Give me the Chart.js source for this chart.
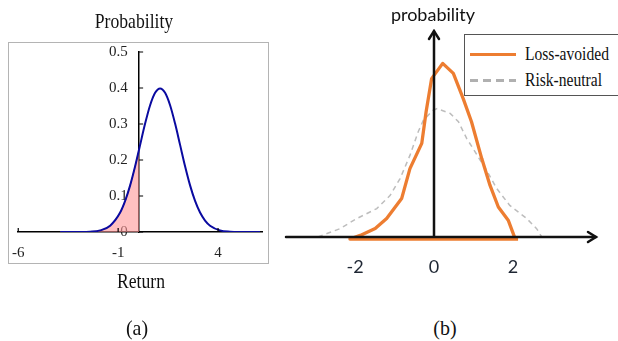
<!DOCTYPE html>
<html>
<head>
<meta charset="utf-8">
<script src="https://cdn.jsdelivr.net/npm/chart.js@4.4.0/dist/chart.umd.min.js"></script>
<style>
  body { margin: 0; width: 618px; height: 341px; overflow: hidden; position: relative; background: #fff; }
  canvas { position: absolute; top: 0; }
  #chartA { left: 0; }
  #chartB { left: 280px; }
  #boxA { position: absolute; left: 8px; top: 42px; width: 259px; height: 220px; border: 1px solid #b4b4b4; }
  .serif { position: absolute; font-family: "Liberation Serif", serif; color: #111; line-height: 1; white-space: nowrap; text-align: center; width: 200px; }
  #probA { left: 34px; top: 11px; font-size: 21px; transform: scaleX(0.84); }
  #returnA { left: 41px; top: 271px; font-size: 21px; transform: scaleX(0.84); }
  #capA { left: 37px; top: 318px; font-size: 21px; transform: scaleX(0.95); }
  #capB { left: 345px; top: 318px; font-size: 21px; transform: scaleX(0.95); }
  #probB { position: absolute; left: 333px; top: 5px; width: 200px; text-align: center; font-family: Lato, sans-serif; font-size: 18px; line-height: 1; color: #111; }
  #legendB { position: absolute; left: 464px; top: 34px; width: 170px; height: 60px; border: 1px solid #555; background: #fff; }
  .legItem { position: absolute; left: 0; height: 28px; width: 170px; }
  .legLine { position: absolute; left: 5px; width: 46px; }
  .legText { position: absolute; left: 60px; font-family: "Liberation Serif", serif; font-size: 19px; line-height: 1; color: #111; transform: scaleX(0.82); transform-origin: left; white-space: nowrap; }
</style>
</head>
<body>
<div id="boxA"></div>
<canvas id="chartA" width="280" height="300"></canvas>
<canvas id="chartB" width="338" height="300"></canvas>
<div class="serif" id="probA">Probability</div>
<div class="serif" id="returnA">Return</div>
<div class="serif" id="capA">(a)</div>
<div class="serif" id="capB">(b)</div>
<div id="probB">probability</div>
<div id="legendB"></div>
<script>
// panel (a): return distribution
const returnX = [-3.9, -2.9, -2.4, -1.9, -1.4, -0.9, -0.65, -0.4, -0.15, 0.05, 0.35, 0.6, 0.85, 1.1, 1.35, 1.6, 1.85, 2.1, 2.35, 2.6, 2.85, 3.1, 3.35, 3.6, 4.1, 4.6, 5.1, 6.1];
const returnProb = [0, 0.0001, 0.0009, 0.0044, 0.0175, 0.054, 0.0863, 0.1295, 0.1826, 0.2299, 0.3011, 0.3521, 0.3867, 0.3989, 0.3867, 0.3521, 0.3011, 0.242, 0.1826, 0.1295, 0.0863, 0.054, 0.0317, 0.0175, 0.0044, 0.0009, 0.0001, 0];
const tailEnd = 0.05;
const xTicksA = [-6, -1, 4];

// panel (b): loss-avoided vs risk-neutral
const lossX = [2.13, -2.13, -1.87, -1.49, -1.2, -0.82, -0.61, -0.31, -0.2, -0.06, 0.22, 0.49, 0.74, 0.95, 1.21, 1.42, 1.63, 1.88, 2.05];
const lossY = [-0.005, -0.005, 0.004, 0.021, 0.046, 0.096, 0.171, 0.234, 0.313, 0.396, 0.434, 0.409, 0.346, 0.288, 0.196, 0.129, 0.075, 0.042, -0.003];
const neutralX = [-2.94, -2.38, -1.96, -1.45, -1.11, -0.86, -0.61, -0.4, -0.27, -0.02, 0.08, 0.41, 0.62, 0.83, 0.99, 1.33, 1.59, 1.92, 2.35, 2.6, 2.73, 2.84];
const neutralY = [0, 0.021, 0.046, 0.071, 0.104, 0.146, 0.204, 0.263, 0.292, 0.317, 0.321, 0.309, 0.288, 0.246, 0.221, 0.167, 0.121, 0.079, 0.046, 0.021, 0, 0];
const xTicksB = [-2, 0, 2];

function points(xs, ys) {
    return xs.map((x, i) => ({ x: x, y: ys[i] }));
}

const curvePts = points(returnX, returnProb);
const tailPts = curvePts.filter(p => p.x <= tailEnd);

// small tick marks drawn on the inner side of the axes
const innerTicks = {
    id: "innerTicks",
    afterDraw(chart) {
        const ctx = chart.ctx;
        const xs = chart.scales.x, ys = chart.scales.y;
        const x0 = xs.getPixelForValue(tailEnd), y0 = ys.getPixelForValue(0);
        ctx.save();
        ctx.strokeStyle = "#000";
        ctx.lineWidth = 1.2;
        ctx.beginPath();
        ys.ticks.forEach(t => {
            const y = ys.getPixelForValue(t.value);
            ctx.moveTo(x0, y);
            ctx.lineTo(x0 + 4, y);
        });
        xTicksA.forEach(v => {
            const x = xs.getPixelForValue(v);
            ctx.moveTo(x, y0);
            ctx.lineTo(x, y0 - 4);
        });
        ctx.stroke();
        ctx.restore();
    }
};

new Chart(document.getElementById("chartA").getContext("2d"), {
    type: "line",
    data: {
        datasets: [
            {
                data: curvePts,
                borderColor: "#0a0aa0",
                borderWidth: 2,
                pointRadius: 0,
                cubicInterpolationMode: "monotone",
                fill: false,
                order: 1
            },
            {
                data: tailPts,
                borderColor: "#d84a4a",
                borderWidth: 1,
                backgroundColor: "rgba(255, 150, 150, 0.6)",
                pointRadius: 0,
                cubicInterpolationMode: "monotone",
                fill: "origin",
                order: 2
            }
        ]
    },
    options: {
        responsive: false,
        animation: false,
        layout: { padding: { left: 18, right: 18, top: 52, bottom: 38 } },
        plugins: { legend: { display: false }, tooltip: { enabled: false } },
        scales: {
            x: {
                type: "linear",
                min: -6,
                max: 6.2,
                afterBuildTicks: s => { s.ticks = xTicksA.map(v => ({ value: v })); },
                afterFit: s => { s.height = 30; },
                grid: { display: false, drawTicks: false },
                border: { color: "#000", width: 1.5 },
                ticks: { color: "#222", padding: 12, font: { family: "Liberation Serif", size: 15 } }
            },
            y: {
                type: "linear",
                position: { x: tailEnd },
                z: 1,
                min: 0,
                max: 0.5,
                grid: { display: false, drawTicks: false },
                border: { color: "#000", width: 1.5 },
                // labels are right-aligned on the crossing axis, so pad them away from the line
                ticks: { stepSize: 0.1, color: "#222", font: { family: "Liberation Serif", size: 15 }, callback: v => v + "   " }
            }
        }
    },
    plugins: [innerTicks]
});

// axes with arrow heads crossing at the origin
const arrowAxes = {
    id: "arrowAxes",
    afterDatasetsDraw(chart) {
        const ctx = chart.ctx;
        const area = chart.chartArea;
        const x0 = chart.scales.x.getPixelForValue(0);
        const y0 = chart.scales.y.getPixelForValue(0);
        ctx.save();
        ctx.strokeStyle = "#111";
        ctx.lineWidth = 2.5;
        ctx.lineCap = "round";
        ctx.beginPath();
        ctx.moveTo(area.left, y0);
        ctx.lineTo(area.right - 1, y0);
        ctx.moveTo(x0, y0);
        ctx.lineTo(x0, area.top + 1);
        ctx.stroke();
        ctx.beginPath();
        ctx.moveTo(area.right - 9, y0 - 5);
        ctx.lineTo(area.right - 1, y0);
        ctx.lineTo(area.right - 9, y0 + 5);
        ctx.moveTo(x0 - 5, area.top + 9);
        ctx.lineTo(x0, area.top + 1);
        ctx.lineTo(x0 + 5, area.top + 9);
        ctx.stroke();
        ctx.restore();
    }
};

const chartB = new Chart(document.getElementById("chartB").getContext("2d"), {
    type: "line",
    data: {
        datasets: [
            {
                label: "Loss-avoided",
                data: points(lossX, lossY),
                borderColor: "#ed7d31",
                borderWidth: 3.3,
                borderJoinStyle: "round",
                pointRadius: 0,
                tension: 0,
                fill: false,
                clip: 8
            },
            {
                label: "Risk-neutral",
                data: points(neutralX, neutralY),
                borderColor: "#bdbdbd",
                borderWidth: 1.5,
                borderDash: [5, 4],
                pointRadius: 0,
                tension: 0,
                fill: false
            }
        ]
    },
    options: {
        responsive: false,
        animation: false,
        layout: { padding: { left: 6, right: 21, top: 30, bottom: 23 } },
        plugins: { legend: { display: false }, tooltip: { enabled: false } },
        scales: {
            x: {
                type: "linear",
                min: -3.75,
                max: 4.13,
                afterBuildTicks: s => { s.ticks = xTicksB.map(v => ({ value: v })); },
                afterFit: s => { s.height = 40; },
                grid: { display: false, drawTicks: false },
                border: { display: false },
                ticks: { color: "#1e2633", padding: 19, font: { family: "Lato", size: 18 } }
            },
            y: {
                display: false,
                min: 0,
                max: 0.5175
            }
        }
    },
    plugins: [arrowAxes]
});

// legend for panel (b), built from the chart's datasets
const legend = document.getElementById("legendB");
chartB.data.datasets.forEach((ds, i) => {
    const item = document.createElement("div");
    item.className = "legItem";
    item.style.top = (6 + i * 26) + "px";
    const line = document.createElement("div");
    line.className = "legLine";
    line.style.top = "12px";
    line.style.height = "3px";
    line.style.background = ds.borderDash
        ? "repeating-linear-gradient(90deg, #b0b0b0 0 8px, transparent 8px 13px)"
        : ds.borderColor;
    const text = document.createElement("div");
    text.className = "legText";
    text.style.top = "3px";
    text.textContent = ds.label;
    item.appendChild(line);
    item.appendChild(text);
    legend.appendChild(item);
});
</script>
</body>
</html>
